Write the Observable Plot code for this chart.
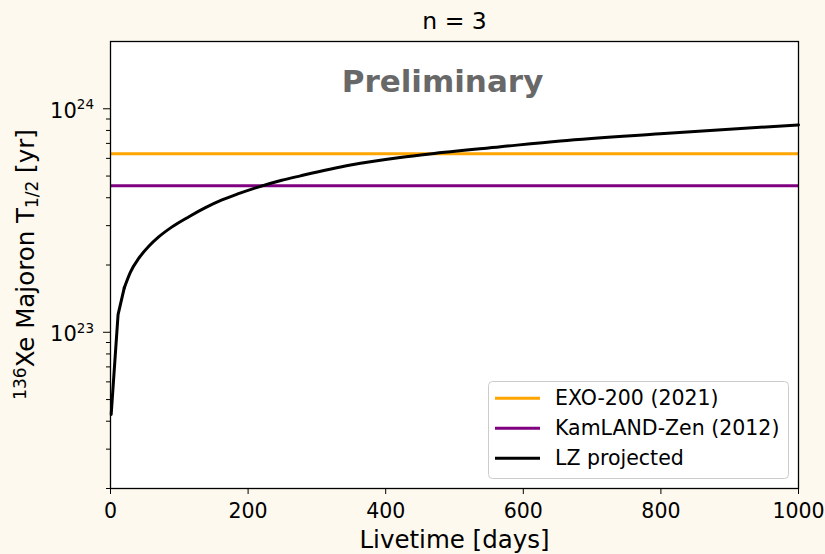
<!DOCTYPE html>
<html>
<head>
<meta charset="utf-8">
<script src="https://cdn.jsdelivr.net/npm/d3@7"></script>
<script src="https://cdn.jsdelivr.net/npm/@observablehq/plot@0.6"></script>
<style>
  html, body { margin: 0; padding: 0; background: #fdf9ee; }
  #chart svg { display: block; }
</style>
</head>
<body>
<div id="chart"></div>
<script>
// ---- data ----
const titleText = "n = 3";
const watermark = "Preliminary";
const xLabel = "Livetime [days]";
const xTicks = [0, 200, 400, 600, 800, 1000];
const yMajorTicks = [1e23, 1e24];
const yMinorTicks = [2e22,3e22,4e22,5e22,6e22,7e22,8e22,9e22,2e23,3e23,4e23,5e23,6e23,7e23,8e23,9e23];
const yMajorExponents = ["23", "24"];

const seriesNames = ["EXO-200 (2021)", "KamLAND-Zen (2012)", "LZ projected"];
const seriesColors = ["orange", "purple", "black"];
const exoLimit = 6.3e23;
const kamlandLimit = 4.53e23;

const livetimeDays = [1, 11, 20, 29, 41, 56, 70, 90, 114, 138, 162, 186, 211, 249, 276, 349, 421, 464, 567, 654, 799, 1000];
const lzHalfLife = [4.29e22, 1.20e23, 1.58e23, 1.86e23, 2.14e23, 2.43e23, 2.67e23, 2.97e23, 3.29e23, 3.61e23, 3.91e23, 4.17e23, 4.43e23, 4.79e23, 5.01e23, 5.60e23, 6.05e23, 6.28e23, 6.76e23, 7.18e23, 7.73e23, 8.47e23];

const lzData = livetimeDays.map((d, i) => ({days: d, t: lzHalfLife[i]}));

const W = 825, H = 554;
const mL = 110, mR = 27, mT = 41, mB = 66;

const chart = Plot.plot({
  width: W, height: H,
  marginLeft: mL, marginRight: mR, marginTop: mT, marginBottom: mB,
  style: {background: "#fdf9ee", fontFamily: "DejaVu Sans", fontSize: "20.5px", color: "black"},
  x: {domain: [0, 1000]},
  y: {type: "log", domain: [2e22, 2e24]},
  marks: [
    Plot.frame({fill: "white", stroke: null}),
    Plot.ruleY([exoLimit], {stroke: seriesColors[0], strokeWidth: 3}),
    Plot.ruleY([kamlandLimit], {stroke: seriesColors[1], strokeWidth: 3}),
    Plot.line(lzData.slice(0, 3), {x: "days", y: "t", stroke: seriesColors[2], strokeWidth: 3, curve: "linear"}),
    Plot.line(lzData.slice(2), {x: "days", y: "t", stroke: seriesColors[2], strokeWidth: 3, curve: "monotone-x"}),
    Plot.text([watermark], {frameAnchor: "top", lineAnchor: "middle", dx: -12, dy: 40.5, fontSize: 31, fontWeight: "bold", fill: "#686868"}),
    Plot.text([titleText], {frameAnchor: "top", lineAnchor: "middle", dy: -20.2, fontSize: 23.5, fill: "black"}),
    Plot.text([xLabel], {frameAnchor: "bottom", lineAnchor: "middle", dy: 51.8, fontSize: 24.5, fill: "black"}),
    Plot.axisX({ticks: xTicks, tickSize: 6, tickPadding: 9.4, label: null, tickFormat: d3.format("d"), fontSize: 20.5}),
    Plot.axisY({ticks: yMinorTicks, tickSize: 4, tickFormat: () => "", label: null}),
    Plot.axisY({ticks: yMajorTicks, tickSize: 7, tickFormat: () => "", label: null}),
    Plot.frame({stroke: "black", strokeWidth: 1.3})
  ]
});

document.getElementById("chart").appendChild(chart);

const svg = d3.select(chart);
const ys = chart.scale("y");

// y tick labels with superscript exponents
yMajorTicks.forEach((v, i) => {
  const y = ys.apply(v);
  const t = svg.append("text")
    .attr("x", 94).attr("y", y + 9.5)
    .attr("text-anchor", "end")
    .attr("font-family", "DejaVu Sans")
    .attr("font-size", 21)
    .attr("fill", "black");
  t.append("tspan").text("10");
  t.append("tspan").attr("font-size", 13.5).attr("dy", -8.3).text(yMajorExponents[i]);
});

// y axis label with superscript and subscript
const yl = svg.append("text")
  .attr("transform", `translate(33.5, ${(mT + H - mB) / 2}) rotate(-90)`)
  .attr("text-anchor", "middle")
  .attr("font-family", "DejaVu Sans")
  .attr("font-size", 24.5)
  .attr("fill", "black");
yl.append("tspan").attr("font-size", 17).attr("dy", -8).text("136");
yl.append("tspan").attr("dy", 8).text("Xe Majoron T");
yl.append("tspan").attr("font-size", 17).attr("dy", 4).text("1/2");
yl.append("tspan").attr("dy", -4).text(" [yr]");

// legend
const lg = svg.append("g");
lg.append("rect")
  .attr("x", 488.5).attr("y", 381.5).attr("width", 300).attr("height", 97)
  .attr("rx", 4).attr("fill", "white").attr("fill-opacity", 0.8)
  .attr("stroke", "#cccccc").attr("stroke-width", 1);
seriesNames.forEach((name, i) => {
  const y = 398.3 + i * 30;
  lg.append("line").attr("x1", 495).attr("x2", 540).attr("y1", y).attr("y2", y)
    .attr("stroke", seriesColors[i]).attr("stroke-width", 3);
  lg.append("text").attr("x", 555).attr("y", y + 6.8)
    .attr("text-anchor", "start")
    .attr("font-family", "DejaVu Sans").attr("font-size", 20.5).attr("fill", "black")
    .text(name);
});
</script>
</body>
</html>
